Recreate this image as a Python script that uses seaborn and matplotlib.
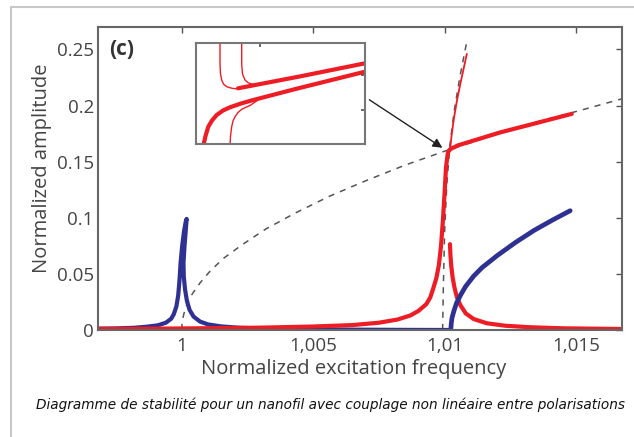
import numpy as np
import matplotlib
matplotlib.use("Agg")
import matplotlib.pyplot as plt
import seaborn as sns

# ---- data ----
# blue mode, resonance near 1 (up the left side, fold back, tail to the right)
blue_peak_x = [0.99682, 0.9975, 0.9982, 0.9987, 0.9991, 0.9994, 0.9996, 0.9997, 0.99980,
               0.99987, 0.99992, 0.99996, 1.00002, 1.00009, 1.00016, 1.00019,
               1.00016, 1.00011, 1.00007, 1.00008, 1.00013, 1.00020, 1.0003, 1.00045,
               1.0007, 1.0010, 1.0015, 1.0022, 1.0032, 1.0045, 1.0065, 1.0085, 1.0102]
blue_peak_y = [0.0012, 0.0014, 0.002, 0.003, 0.0042, 0.0065, 0.010, 0.014, 0.021,
               0.031, 0.045, 0.060, 0.075, 0.088, 0.097, 0.099,
               0.090, 0.075, 0.060, 0.048, 0.036, 0.026, 0.018, 0.012,
               0.0075, 0.005, 0.0032, 0.002, 0.0012, 0.0007, 0.0003, 0.0001, 0.0]
# blue branch rising after 1.01
blue_rise_x = [1.01023, 1.01025, 1.01028, 1.01035, 1.01045, 1.0106, 1.0108, 1.0111,
               1.01142, 1.0120, 1.01269, 1.0134, 1.0141, 1.01477]
blue_rise_y = [0.0, 0.006, 0.011, 0.017, 0.024, 0.031, 0.039, 0.048,
               0.0556, 0.0664, 0.078, 0.0888, 0.098, 0.1063]

# red mode: left tail up to the corner, then upper stable branch
red_main_x = [0.99682, 0.999, 1.001, 1.003, 1.005, 1.0065, 1.0075, 1.0082, 1.0087, 1.0090,
              1.0093, 1.00945, 1.00955, 1.00968, 1.00978, 1.00986, 1.00993, 1.00999,
              1.01005, 1.01012, 1.0102, 1.0105, 1.0121, 1.0135, 1.01483]
red_main_y = [0.0010, 0.0012, 0.0016, 0.0021, 0.0031, 0.0044, 0.0065, 0.0093, 0.013, 0.017,
              0.023, 0.029, 0.036, 0.046, 0.058, 0.075, 0.097, 0.120,
              0.145, 0.158, 0.161, 0.1645, 0.176, 0.1845, 0.1926]
# red lower branch coming down to the right
red_tail_x = [1.0102, 1.01022, 1.01025, 1.0103, 1.01037, 1.01046, 1.0106, 1.0108, 1.0111,
              1.0116, 1.0123, 1.0132, 1.0145, 1.01674]
red_tail_y = [0.0765, 0.066, 0.057, 0.047, 0.038, 0.0295, 0.022, 0.0148, 0.0098,
              0.006, 0.0038, 0.0025, 0.0015, 0.0009]
# thin red branch going up
red_thin_x = [1.0102, 1.01027, 1.01036, 1.01047, 1.0106, 1.01073, 1.01084]
red_thin_y = [0.160, 0.175, 0.190, 0.205, 0.220, 0.234, 0.246]

# backbone curves (dashed)
bb1_x = [1.0, 1.00002, 1.00008, 1.0002, 1.0004, 1.0007, 1.0011, 1.0016, 1.0023, 1.0032,
         1.0043, 1.0056, 1.0070, 1.0085, 1.01008, 1.0118, 1.0136, 1.0152, 1.01674]
bb1_y = [0.0, 0.007, 0.014, 0.023, 0.032, 0.042, 0.053, 0.064, 0.076, 0.090,
         0.104, 0.119, 0.133, 0.147, 0.160, 0.173, 0.186, 0.196, 0.206]
bb2_x = [1.00992, 1.00995, 1.0100, 1.01008, 1.0102, 1.01036, 1.01058, 1.01084]
bb2_y = [0.0, 0.04, 0.09, 0.13, 0.165, 0.195, 0.226, 0.257]

# inset (zoom of the corner), in inset units
ins_up_x = [42, 104, 169]
ins_up_y = [55.7, 67.6, 80.7]
ins_lo_x = [7.3, 9.5, 12.3, 16, 20.7, 27, 34, 45, 57.3, 100.7, 169]
ins_lo_y = [-2, 8, 17.3, 23.5, 29, 33.5, 36.7, 40.5, 44, 55.3, 72.3]
ins_t1_x = [24, 24, 24.5, 25.7, 27.5, 30.7, 36, 42.3]
ins_t1_y = [101, 80, 70, 64, 60, 57.3, 55.7, 55]
ins_t2_x = [45.7, 45.7, 46.5, 49, 52, 55.7, 62]
ins_t2_y = [101, 80, 70, 64, 61.3, 60, 59.5]
ins_t3_x = [34, 34.5, 35.7, 37, 39, 42, 45.7, 50, 54, 62]
ins_t3_y = [-2, 8, 17.3, 23, 27.3, 31.5, 34.7, 36.8, 38.5, 44]

xticks = [1.0, 1.005, 1.01, 1.015]
xtick_labels = ["1", "1,005", "1,01", "1,015"]
yticks = [0, 0.05, 0.1, 0.15, 0.2, 0.25]
ytick_labels = ["0", "0.05", "0.1", "0.15", "0.2", "0.25"]

BLUE = "#2e3192"
RED = "#ee1c24"
GRAY = "#555555"

sns.set_theme(style="white")
plt.rcParams['font.family'] = ['Open Sans', 'DejaVu Sans']

fig = plt.figure(figsize=(6.34, 4.37), dpi=100)
W, H = 634, 437
ax = fig.add_axes([98 / W, 1 - 330 / H, (622 - 98) / W, (330 - 27) / H])

def line(a, x, y, color, lw, dashed=False):
    sns.lineplot(x=x, y=y, sort=False, estimator=None, ax=a, color=color,
                 linewidth=lw, legend=False, solid_joinstyle="round")
    if dashed:
        a.lines[-1].set_dashes((4, 4))

line(ax, bb1_x, bb1_y, GRAY, 1.1, dashed=True)
line(ax, bb2_x, bb2_y, GRAY, 1.1, dashed=True)
line(ax, blue_peak_x, blue_peak_y, BLUE, 3)
line(ax, red_main_x, red_main_y, RED, 3)
line(ax, red_tail_x, red_tail_y, RED, 3)
line(ax, red_thin_x, red_thin_y, RED, 1.3)
line(ax, blue_rise_x, blue_rise_y, BLUE, 3.4)

ax.set_xlim(0.99682, 1.01674)
ax.set_ylim(0, 0.27)
ax.set_xticks(xticks)
ax.set_xticklabels(xtick_labels)
ax.set_yticks(yticks)
ax.set_yticklabels(ytick_labels)
ax.tick_params(direction="in", length=4, width=1, colors=GRAY, labelsize=13.5,
               top=True, right=True)
ax.tick_params(axis="x", pad=5)
ax.tick_params(axis="y", pad=3)
for t in ax.get_xticklabels() + ax.get_yticklabels():
    t.set_color("#444444")
for s in ax.spines.values():
    s.set_color("#666666")
    s.set_linewidth(1.5)
ax.set_xlabel("Normalized excitation frequency", fontsize=14.5, color="#444444")
ax.set_ylabel("Normalized amplitude", fontsize=14.5, color="#444444")
ax.xaxis.set_label_coords(0.487, -0.095)
ax.yaxis.set_label_coords(-0.088, 0.535)
ax.text(0.022, 0.925, "(c)", transform=ax.transAxes, fontsize=15, fontweight="bold",
        color="#333333", va="center")

ax.annotate("", xy=(1.01, 0.161), xytext=(0.99682 + (368 - 98) / 132 * 0.005, 0.2065),
            arrowprops=dict(arrowstyle="-|>", color="#222222", lw=1, mutation_scale=14))

# inset
ins = fig.add_axes([196 / W, 1 - 144 / H, 169 / W, 101 / H])
line(ins, ins_lo_x, ins_lo_y, RED, 3)
line(ins, ins_up_x, ins_up_y, RED, 3)
line(ins, ins_t1_x, ins_t1_y, RED, 1)
line(ins, ins_t2_x, ins_t2_y, RED, 1)
line(ins, ins_t3_x, ins_t3_y, RED, 1)
ins.set_xlim(0, 169)
ins.set_ylim(0, 101)
ins.set_xticks([64])
ins.set_yticks([34, 69])
ins.set_xticklabels([])
ins.set_yticklabels([])
ins.set_xlabel("")
ins.set_ylabel("")
ins.tick_params(direction="in", length=3, colors=GRAY, top=True, right=True)
for s in ins.spines.values():
    s.set_color("#777777")
    s.set_linewidth(1.5)

# page frame and caption
fig.add_artist(plt.Line2D([11 / W, 11 / W], [0, 1 - 7 / H], color="#c8c8c8", lw=1.5))
fig.add_artist(plt.Line2D([11 / W, 1], [1 - 7 / H, 1 - 7 / H], color="#c8c8c8", lw=1.5))
fig.text(331 / W, 1 - 405 / H, "Diagramme de stabilité pour un nanofil avec couplage non linéaire entre polarisations",
         ha="center", va="center", fontsize=9.8, style="italic", color="#111111",
         family=["DejaVu Sans"])

fig.savefig("out.png", dpi=100)
